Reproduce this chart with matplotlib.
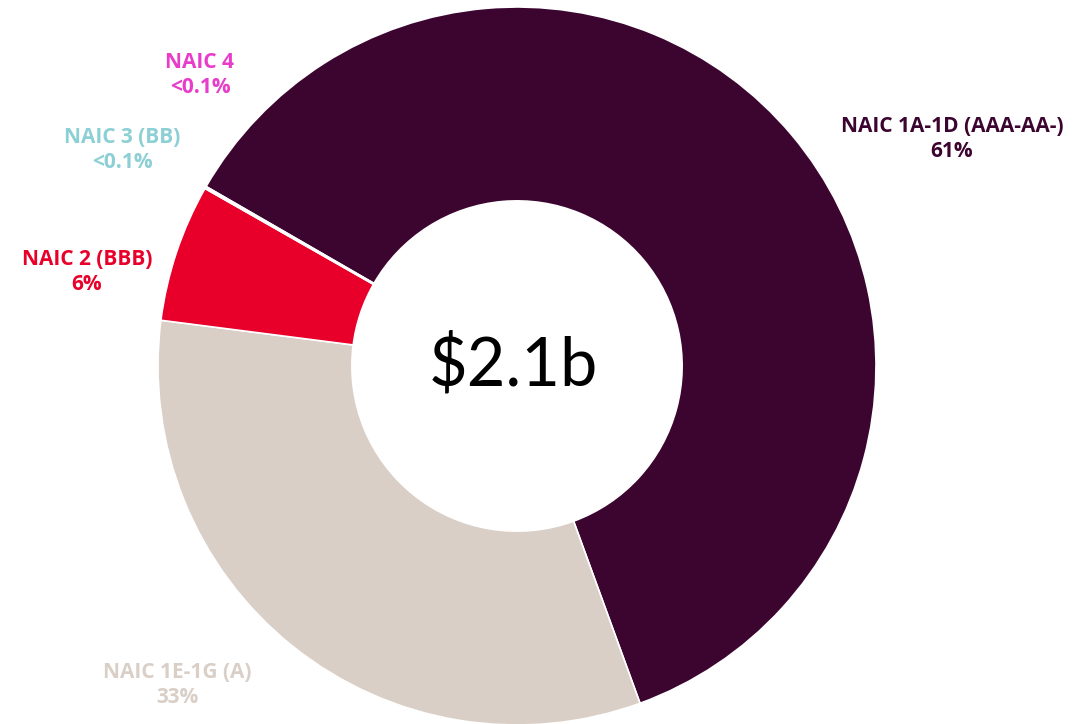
import matplotlib.pyplot as plt

# data
categories = ["NAIC 1A-1D (AAA-AA-)", "NAIC 1E-1G (A)", "NAIC 2 (BBB)", "NAIC 3 (BB)", "NAIC 4"]
shares = [61.1, 32.6, 6.2, 0.05, 0.05]
share_labels = ["61%", "33%", "6%", "<0.1%", "<0.1%"]
colors = ["#3C0530", "#D9CFC7", "#E8002A", "#8CCFD4", "#E83CCB"]
total_label = "$2.1b"

# label centres in figure pixels (x, y from top)
label_pos = [(952, 139), (177, 685), (87, 272), (122, 150), (200, 75)]

W, H = 1089, 724
fig = plt.figure(figsize=(W / 100, H / 100), dpi=100)
ax = fig.add_axes([0, 0, 1, 1])

# donut centre / radius in pixels
cx, cy, r = 517, 366, 359

ax.pie(shares, colors=colors, startangle=150, counterclock=False,
       radius=1.0, wedgeprops=dict(width=0.54, edgecolor="white", linewidth=1.2))
ax.set_aspect("equal")
ax.set_xlim(-cx / r, (W - cx) / r)
ax.set_ylim(-(H - cy) / r, cy / r)
ax.axis("off")

ax.text(-0.01, 0, total_label, ha="center", va="center", fontsize=48,
        family="Lato", color="black")

for name, pct, col, (px, py) in zip(categories, share_labels, colors, label_pos):
    fig.text(px / W, 1 - py / H, name + "\n" + pct, ha="center", va="center",
             fontsize=15, fontweight="bold", family="Open Sans", color=col,
             linespacing=1.3)

fig.savefig("out.png", dpi=100)
